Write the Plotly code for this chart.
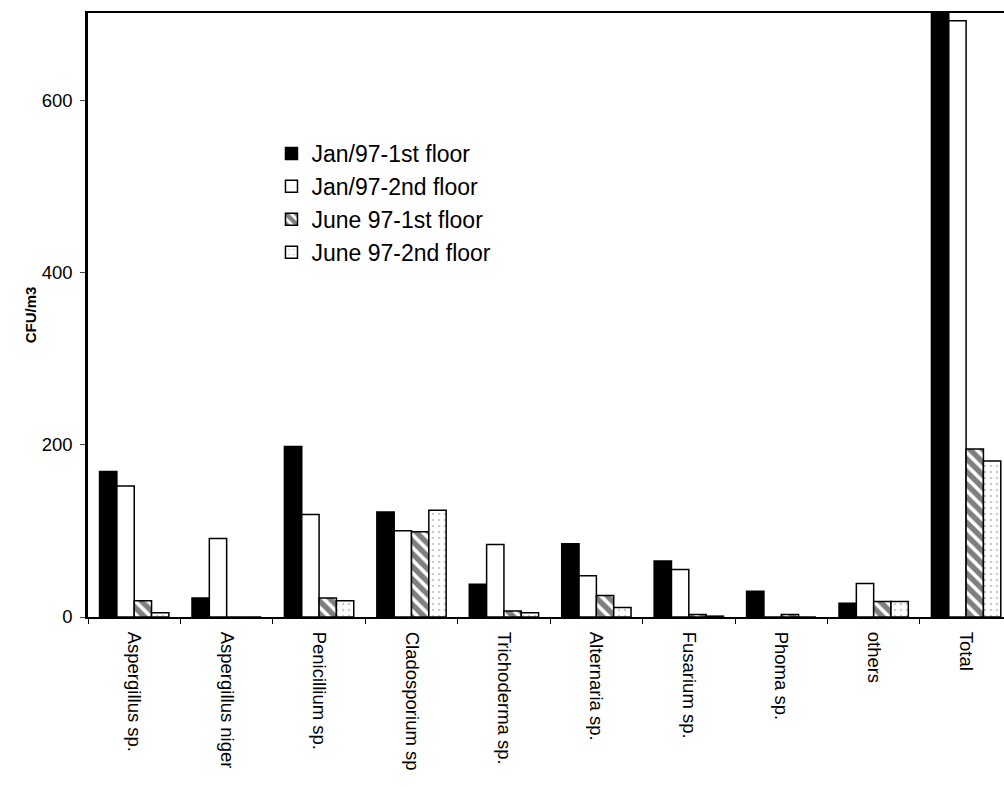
import plotly.graph_objects as go

categories = ["Aspergillus sp.", "Aspergillus niger", "Penicillium sp.", "Cladosporium sp",
              "Trichoderma sp.", "Alternaria sp.", "Fusarium sp.", "Phoma sp.", "others", "Total"]
jan_1st = [169, 22, 198, 122, 38, 85, 65, 30, 16, 745]
jan_2nd = [152, 91, 119, 100, 84, 48, 55, 0, 39, 692]
jun_1st = [19, 0, 22, 99, 7, 25, 3, 3, 18, 195]
jun_2nd = [5, 0, 19, 124, 5, 11, 1, 0, 18, 181]
series_names = ["Jan/97-1st floor", "Jan/97-2nd floor", "June 97-1st floor", "June 97-2nd floor"]
y_ticks = [0, 200, 400, 600]

line = dict(color="black", width=1.5)
fig = go.Figure()
fig.add_bar(x=categories, y=jan_1st, name=series_names[0],
            marker=dict(color="black", line=line))
fig.add_bar(x=categories, y=jan_2nd, name=series_names[1],
            marker=dict(color="white", line=line))
fig.add_bar(x=categories, y=jun_1st, name=series_names[2],
            marker=dict(color="white", line=line,
                        pattern=dict(shape="\\", fgcolor="black", bgcolor="white",
                                     size=9, solidity=0.6)))
fig.add_bar(x=categories, y=jun_2nd, name=series_names[3],
            marker=dict(color="white", line=line,
                        pattern=dict(shape=".", fgcolor="#999999", bgcolor="white",
                                     size=6, solidity=0.15)))

fig.update_layout(
    width=1004, height=787,
    margin=dict(l=88, r=0, t=13, b=170),
    paper_bgcolor="white", plot_bgcolor="white",
    barmode="group", bargap=0.25, bargroupgap=0,
    font=dict(family="Liberation Sans, Arial", size=18.5, color="black"),
    showlegend=True,
    legend=dict(x=0.2003, y=0.803, xanchor="left", yanchor="top",
                bgcolor="rgba(0,0,0,0)", font=dict(size=23),
                itemwidth=30),
    xaxis=dict(range=[-0.5, 9.41], showline=True, linecolor="black", linewidth=2,
               mirror=True, ticks="outside", ticklen=5, tickson="boundaries",
               tickcolor="black", tickangle=90, showgrid=False,
               ticklabelstandoff=9, tickfont=dict(size=18.5)),
    yaxis=dict(range=[0, 701], showline=True, linecolor="black", linewidth=2.5,
               ticks="outside", ticklen=5, tickvals=y_ticks, showgrid=False,
               zeroline=False, ticklabelstandoff=4, tickfont=dict(size=18.5),
               title=dict(text="<b>CFU/m3</b>", font=dict(size=15), standoff=2)),
)

fig.write_html("out.html", config={"displayModeBar": False},
               post_script="document.body.style.margin='0';")
